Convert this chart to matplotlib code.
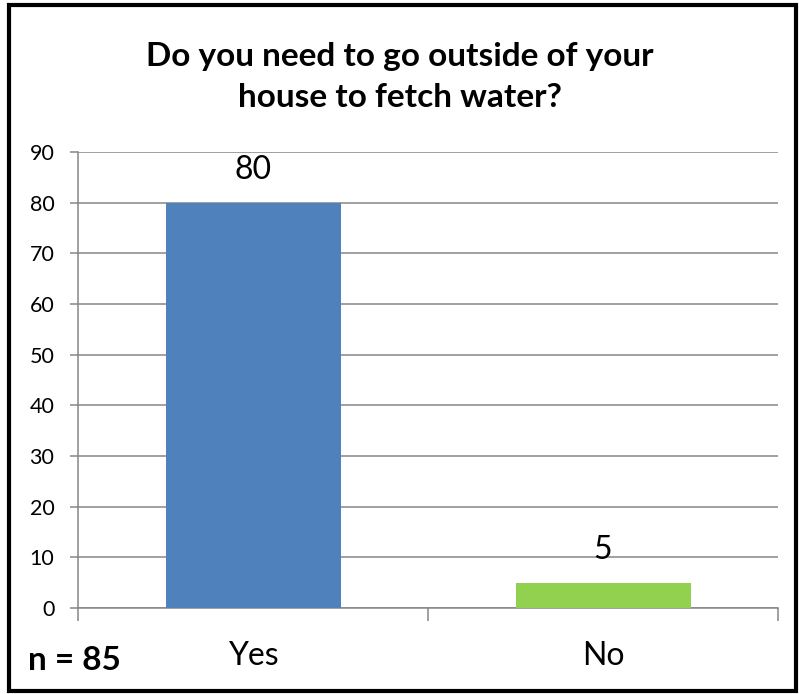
import matplotlib
matplotlib.use("Agg")
import matplotlib.pyplot as plt
from matplotlib.patches import Rectangle

plt.rcParams['font.family'] = ['Lato', 'DejaVu Sans']

categories = ["Yes", "No"]
counts = [80, 5]
colors = ["#4F81BD", "#92D050"]
title = "Do you need to go outside of your\nhouse to fetch water?"
n_label = "n = 85"

fig = plt.figure(figsize=(7.99, 6.94), dpi=100)
ax = fig.add_axes([78/799, 1-608/694, 700/799, 456/694])

x = range(len(categories))
bars = ax.bar(x, counts, width=0.5, color=colors, zorder=3)
for b, v in zip(bars, counts):
    ax.annotate(str(v), (b.get_x() + b.get_width()/2, v), xytext=(0, 13),
                textcoords="offset points", ha="center", va="bottom", fontsize=23)

ax.set_xlim(-0.5, 1.5)
ax.set_ylim(0, 90)
ax.set_yticks(range(0, 91, 10))
ax.grid(axis="y", color="#868686", lw=1.1, zorder=0)

ax.set_xticks(list(x))
ax.set_xticklabels(categories, fontsize=23)
ax.set_xticks([-0.5, 0.5, 1.5], minor=True)
ax.tick_params(axis="x", which="major", length=0, pad=24)
ax.tick_params(axis="x", which="minor", length=9, width=1.1, color="#868686")
ax.tick_params(axis="y", length=6, width=1.1, color="#868686", labelsize=15.5, pad=11)

for s in ["top", "right"]:
    ax.spines[s].set_visible(False)
for s in ["left", "bottom"]:
    ax.spines[s].set_color("#868686")
    ax.spines[s].set_linewidth(1.1)

fig.text(0.5, 1-77/694, title, ha="center", va="center", fontsize=24,
         fontweight="bold", linespacing=1.5)
fig.text(28/799, 1-660/694, n_label, ha="left", va="center", fontsize=24,
         fontweight="bold")

# black frame around the whole chart area
fig.patches.append(Rectangle((9/799, 3/694), 787/799, 686/694, fill=False,
                             ec="black", lw=3, transform=fig.transFigure))

fig.savefig("out.png", dpi=100)
